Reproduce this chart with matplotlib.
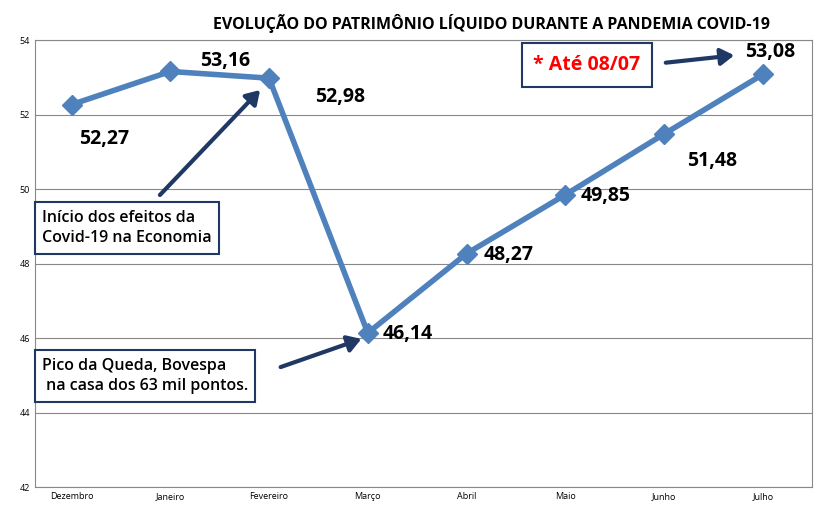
import matplotlib.pyplot as plt

months = ['Dezembro', 'Janeiro', 'Fevereiro', 'Março', 'Abril', 'Maio', 'Junho', 'Julho']
values = [52.27, 53.16, 52.98, 46.14, 48.27, 49.85, 51.48, 53.08]
labels = ['52,27', '53,16', '52,98', '46,14', '48,27', '49,85', '51,48', '53,08']
# label offsets in pixels relative to the point
offsets = [(33, -34, 'center'), (55, 10, 'center'), (71, -19, 'center'), (15, -1, 'left'),
           (17, -1, 'left'), (15, -1, 'left'), (48, -27, 'center'), (7, 22, 'center')]

plt.rcParams['font.family'] = ['Open Sans', 'DejaVu Sans']
line_col = '#4F81BD'
arrow_col = '#1F3864'
H = 515

fig = plt.figure(figsize=(8.33, 5.15), dpi=100)
ax = fig.add_axes([0.042, 0.054, 0.933, 0.868])
x = list(range(len(months)))
ax.plot(x, values, color=line_col, lw=4, marker='D', ms=10, mec=line_col, zorder=3)
ax.set_xlim(-0.37, 7.5)
ax.set_ylim(42, 54)
ax.set_yticks(range(42, 55, 2))
ax.set_xticks(x)
ax.set_xticklabels(months, fontsize=6.5)
ax.tick_params(axis='y', labelsize=6.5, length=0)
ax.tick_params(axis='x', length=0)
ax.grid(axis='y', color='#888888', lw=0.8)
for s in ax.spines.values():
    s.set_color('#888888')

for xi, v, lab, (dx, dy, ha) in zip(x, values, labels, offsets):
    ax.annotate(lab, (xi, v), xytext=(dx, dy), textcoords='offset pixels',
                ha=ha, va='center', fontsize=14, fontweight='bold')

fig.text(0.59, 0.955, 'EVOLUÇÃO DO PATRIMÔNIO LÍQUIDO DURANTE A PANDEMIA COVID-19',
         ha='center', va='center', fontsize=11.5, fontweight='bold')

box = dict(boxstyle='square,pad=0.45', fc='white', ec=arrow_col, lw=1.5)
arr = dict(arrowstyle='-|>,head_width=0.5,head_length=0.8', color=arrow_col, lw=3)

def fp(px, py):
    return (px, H - py)

ax.annotate('', xy=fp(262, 88), xycoords='figure pixels', xytext=fp(158, 197),
            textcoords='figure pixels', arrowprops=arr)
fig.text(42 / 833, 1 - 228 / H, 'Início dos efeitos da\nCovid-19 na Economia',
         fontsize=11.5, fontweight='semibold', va='center', ha='left', bbox=box, linespacing=1.4)

ax.annotate('', xy=fp(364, 338), xycoords='figure pixels', xytext=fp(278, 368),
            textcoords='figure pixels', arrowprops=arr)
fig.text(42 / 833, 1 - 376 / H, 'Pico da Queda, Bovespa\n na casa dos 63 mil pontos.',
         fontsize=11.5, fontweight='semibold', va='center', ha='left', bbox=box, linespacing=1.4)

ax.annotate('', xy=fp(737, 55), xycoords='figure pixels', xytext=fp(663, 63),
            textcoords='figure pixels', arrowprops=arr)
fig.text(587 / 833, 1 - 65 / H, '* Até 08/07', fontsize=14, fontweight='bold', color='red',
         va='center', ha='center', bbox=dict(boxstyle='square,pad=0.6', fc='white', ec=arrow_col, lw=1.5))

fig.savefig('out.png', dpi=100)
